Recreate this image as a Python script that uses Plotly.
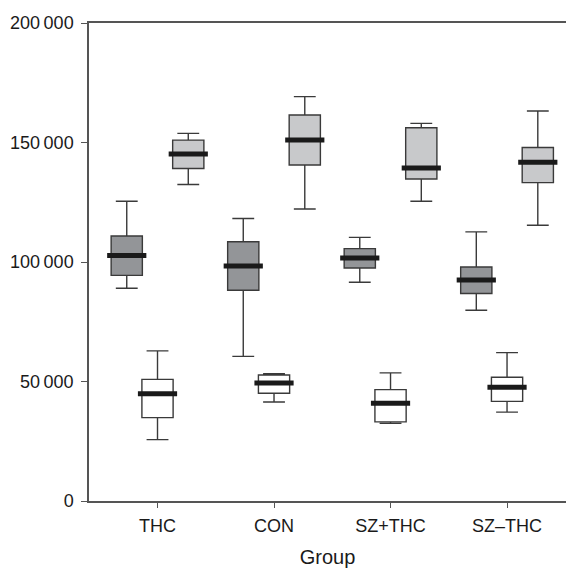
import plotly.graph_objects as go

groups = ["THC", "CON", "SZ+THC", "SZ\u2013THC"]

# values (units: count)
dark_upper = [125400, 118200, 110300, 112600]
dark_q3 = [110900, 108500, 105600, 97900]
dark_med = [102700, 98300, 101700, 92500]
dark_q1 = [94400, 88200, 97500, 86800]
dark_lower = [89000, 60500, 91500, 79800]

white_upper = [62800, 53300, 53600, 62100]
white_q3 = [50900, 52700, 46600, 51800]
white_med = [44900, 49400, 40900, 47600]
white_q1 = [34900, 45100, 33100, 41700]
white_lower = [25700, 41400, 32500, 37200]

light_upper = [153800, 169200, 158000, 163200]
light_q3 = [151000, 161500, 156200, 147900]
light_med = [145200, 151000, 139300, 141700]
light_q1 = [139100, 140600, 134700, 133200]
light_lower = [132400, 122200, 125400, 115400]

y_tickvals = [0, 50000, 100000, 150000, 200000]
y_ticktext = ["0", "50\u2009000", "100\u2009000", "150\u2009000", "200\u2009000"]

series = [
    ("Series 1", -0.264, "#939598", dark_lower, dark_q1, dark_med, dark_q3, dark_upper),
    ("Series 2", 0.0, "#ffffff", white_lower, white_q1, white_med, white_q3, white_upper),
    ("Series 3", 0.264, "#c8c9cb", light_lower, light_q1, light_med, light_q3, light_upper),
]

fig = go.Figure()
for name, off, fill, lo, q1, med, q3, up in series:
    xs = [i + off for i in range(len(groups))]
    fig.add_trace(go.Box(
        name=name, x=xs, lowerfence=lo, q1=q1, median=med, q3=q3, upperfence=up,
        width=0.268, fillcolor=fill, whiskerwidth=0.7,
        line=dict(color="#3a3a3a", width=1.4), showlegend=False, hoverinfo="skip",
    ))
for name, off, fill, lo, q1, med, q3, up in series:
    xs = [i + off for i in range(len(groups))]
    fig.add_trace(go.Scatter(
        x=xs, y=med, mode="markers", showlegend=False, hoverinfo="skip",
        marker=dict(symbol="line-ew", size=28, color="#1a1a1a",
                    line=dict(color="#1a1a1a", width=5)),
    ))

font = "Liberation Sans, Arial, sans-serif"
fig.update_layout(
    width=566, height=568,
    margin=dict(l=89, r=0, t=23, b=67, pad=0),
    paper_bgcolor="white", plot_bgcolor="white",
    font=dict(family=font, size=18, color="#1a1a1a"),
)
fig.update_xaxes(
    range=[-0.588, 3.506], tickvals=list(range(len(groups))), ticktext=groups,
    showline=True, mirror=True, linecolor="#555555", linewidth=1.5,
    ticks="outside", ticklen=5, tickwidth=1.3, tickcolor="#555555",
    ticklabelstandoff=3,
    showgrid=False, zeroline=False,
    title=dict(text="Group", font=dict(size=20), standoff=18),
)
fig.update_yaxes(
    range=[0, 200000], tickvals=y_tickvals, ticktext=y_ticktext,
    showline=True, linecolor="#555555", linewidth=1.5,
    ticks="outside", ticklen=6, tickwidth=1.3, tickcolor="#555555",
    ticklabelstandoff=4,
    showgrid=False, zeroline=False,
)

fig.write_html("out.html", config={"displayModeBar": False},
               post_script="document.body.style.margin='0';")
